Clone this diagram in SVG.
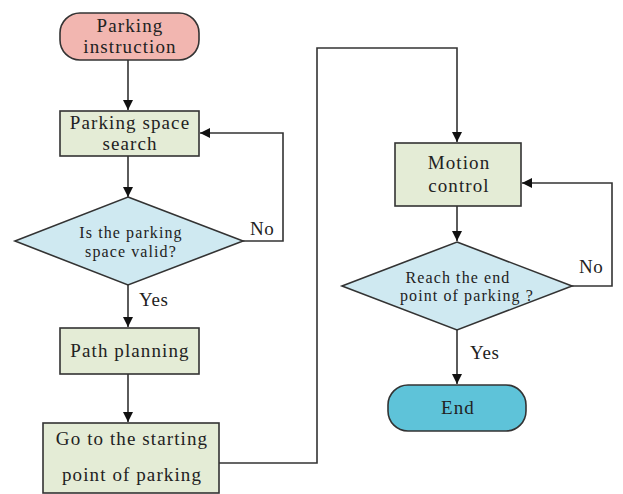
<svg xmlns="http://www.w3.org/2000/svg" width="623" height="494" viewBox="0 0 623 494">
<style>
.box{fill:#e4ecd6;stroke:#333;stroke-width:1.6}
.dia{fill:#cfe9f1;stroke:#333;stroke-width:1.6}
.t{font-family:"Liberation Serif","Times New Roman",serif;font-size:19px;letter-spacing:1.1px;fill:#222;text-anchor:middle}
.s{font-family:"Liberation Serif","Times New Roman",serif;font-size:16px;letter-spacing:1.1px;fill:#222;text-anchor:middle}
.lbl{font-family:"Liberation Serif","Times New Roman",serif;font-size:19px;letter-spacing:0.6px;fill:#222}
.c{fill:none;stroke:#333;stroke-width:1.6}
</style>
<defs>
<marker id="ah" viewBox="0 0 10 10" refX="10" refY="5" markerWidth="10" markerHeight="10" markerUnits="userSpaceOnUse" orient="auto">
<path d="M0,0 L10,5 L0,10 z" fill="#111"/>
</marker>
</defs>
<rect width="623" height="494" fill="#fff"/>
<g id="connectors">
<path class="c" d="M128,60 V110" marker-end="url(#ah)"/>
<path class="c" d="M128,156 V197" marker-end="url(#ah)"/>
<path class="c" d="M243,241 H283 V133 H200" marker-end="url(#ah)"/>
<path class="c" d="M128,285 V327" marker-end="url(#ah)"/>
<path class="c" d="M128,374 V422" marker-end="url(#ah)"/>
<path class="c" d="M219,463 H317 V48 H457 V142" marker-end="url(#ah)"/>
<path class="c" d="M457,206 V241" marker-end="url(#ah)"/>
<path class="c" d="M572,286 H612 V183 H522" marker-end="url(#ah)"/>
<path class="c" d="M457,330 V384" marker-end="url(#ah)"/>
<text class="lbl" x="250" y="235">No</text>
<text class="lbl" x="139" y="306">Yes</text>
<text class="lbl" x="579" y="273">No</text>
<text class="lbl" x="470" y="359">Yes</text>
</g>
<g id="start">
<rect x="60" y="13" width="139" height="47" rx="20" fill="#f2b6b0" stroke="#333" stroke-width="1.6"/>
<text class="t" x="130" y="32">Parking</text>
<text class="t" x="130" y="53">instruction</text>
</g>
<g id="search">
<rect class="box" x="60" y="111" width="139" height="45"/>
<text class="t" x="130" y="129">Parking space</text>
<text class="t" x="130" y="150">search</text>
</g>
<g id="valid">
<polygon class="dia" points="128,197 243,241 128,285 15,241"/>
<text class="s" x="131" y="238">Is the parking</text>
<text class="s" x="131" y="257">space valid?</text>
</g>
<g id="path">
<rect class="box" x="60" y="328" width="139" height="46"/>
<text class="t" x="130" y="357">Path planning</text>
</g>
<g id="goto">
<rect class="box" x="43" y="423" width="176" height="70"/>
<text class="t" x="132" y="445">Go to the starting</text>
<text class="t" x="132" y="481">point of parking</text>
</g>
<g id="motion">
<rect class="box" x="395" y="143" width="126" height="63"/>
<text class="t" x="459" y="169">Motion</text>
<text class="t" x="459" y="192">control</text>
</g>
<g id="reach">
<polygon class="dia" points="457,242 572,286 457,330 342,286"/>
<text class="s" x="458" y="283">Reach the end</text>
<text class="s" x="467" y="301">point of parking ?</text>
</g>
<g id="end">
<rect x="388" y="385" width="138" height="46" rx="20" fill="#5ec3d9" stroke="#333" stroke-width="1.6"/>
<text class="t" x="458" y="414">End</text>
</g>
</svg>
